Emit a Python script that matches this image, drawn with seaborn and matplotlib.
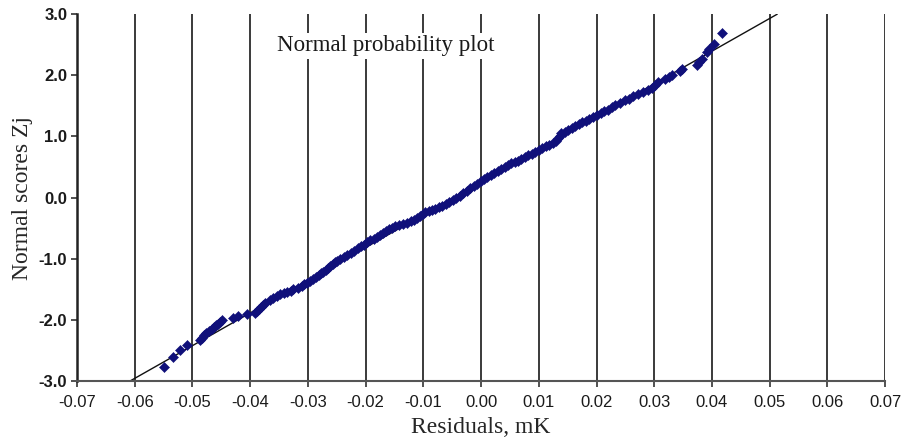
import matplotlib
matplotlib.use("Agg")
import matplotlib.pyplot as plt
import seaborn as sns
import pandas as pd

# Residuals (x) and normal scores (y)
residuals = [
    -0.0549, -0.0534, -0.0522, -0.0510, -0.0487, -0.0484, -0.0480, -0.0476, -0.0471, -0.0467,
    -0.0463, -0.0459, -0.0455, -0.0452, -0.0449, -0.0429, -0.0421, -0.0406, -0.0392, -0.0389,
    -0.0385, -0.0381, -0.0378, -0.0374, -0.0366, -0.0360, -0.0353, -0.0348, -0.0341, -0.0337,
    -0.0330, -0.0325, -0.0318, -0.0311, -0.0306, -0.0301, -0.0296, -0.0291, -0.0286, -0.0281,
    -0.0277, -0.0273, -0.0269, -0.0265,
    -0.0261, -0.0257, -0.0253, -0.0249, -0.0244, -0.0238, -0.0232, -0.0226, -0.0220, -0.0214,
    -0.0208, -0.0203, -0.0198, -0.0192, -0.0186, -0.0180, -0.0175, -0.0170, -0.0165, -0.0160,
    -0.0155, -0.0149, -0.0143, -0.0136, -0.0129, -0.0122, -0.0116, -0.0111, -0.0106, -0.0101,
    -0.0097, -0.0091, -0.0085, -0.0079, -0.0073, -0.0067, -0.0061, -0.0055, -0.0049, -0.0043,
    -0.0037, -0.0031, -0.0025, -0.0019, -0.0013, -0.0007, -0.0001, 0.0005, 0.0011, 0.0017,
    0.0023, 0.0029, 0.0035, 0.0041, 0.0046, 0.0052, 0.0058, 0.0064, 0.0070, 0.0076,
    0.0082, 0.0088, 0.0094, 0.0100, 0.0106, 0.0112, 0.0118, 0.0124, 0.0129, 0.0133,
    0.0136, 0.0139, 0.0145, 0.0151, 0.0157, 0.0163, 0.0169, 0.0175, 0.0181, 0.0187,
    0.0194, 0.0201, 0.0207, 0.0213, 0.0219, 0.0226, 0.0232,
    0.0240, 0.0250, 0.0257, 0.0264, 0.0272, 0.0281, 0.0289, 0.0296, 0.0302, 0.0307,
    0.0318, 0.0325, 0.0330, 0.0345, 0.0348, 0.0374, 0.0378, 0.0382, 0.0392, 0.0395,
    0.0403, 0.0417,
]
normal_scores = [
    -2.77, -2.61, -2.49, -2.41, -2.33, -2.29, -2.25, -2.22, -2.18, -2.15,
    -2.12, -2.09, -2.06, -2.03, -2.00, -1.97, -1.94, -1.91, -1.88, -1.85,
    -1.82, -1.79, -1.76, -1.73, -1.68, -1.64, -1.61, -1.58, -1.56, -1.54,
    -1.52, -1.50, -1.48, -1.45, -1.42, -1.39, -1.36, -1.33, -1.30, -1.27,
    -1.24, -1.21, -1.18, -1.15,
    -1.12, -1.09, -1.06, -1.03, -1.00, -0.97, -0.94, -0.91, -0.87, -0.83,
    -0.80, -0.77, -0.73, -0.70, -0.67, -0.64, -0.61, -0.58, -0.55, -0.52,
    -0.49, -0.47, -0.45, -0.43, -0.41, -0.39, -0.36, -0.33, -0.30, -0.27,
    -0.24, -0.22, -0.20, -0.18, -0.16, -0.13, -0.10, -0.07, -0.04, -0.01,
    0.03, 0.07, 0.11, 0.15, 0.19, 0.23, 0.27, 0.30, 0.33, 0.37,
    0.41, 0.44, 0.47, 0.50, 0.53, 0.56, 0.58, 0.60, 0.63, 0.66,
    0.69, 0.72, 0.75, 0.78, 0.81, 0.84, 0.86, 0.89, 0.93, 0.97,
    1.01, 1.05, 1.08, 1.11, 1.14, 1.17, 1.20, 1.23, 1.26, 1.29,
    1.32, 1.35, 1.38, 1.41, 1.44, 1.48, 1.51,
    1.55, 1.59, 1.62, 1.66, 1.69, 1.73, 1.76, 1.80, 1.84, 1.89,
    1.94, 1.98, 2.01, 2.07, 2.10, 2.17, 2.21, 2.26, 2.38, 2.43,
    2.52, 2.69,
]

# Reference (fitted) line end points
line_x = [-0.0608, 0.0513]
line_y = [-3.0, 3.0]

x_ticks = [-0.07, -0.06, -0.05, -0.04, -0.03, -0.02, -0.01, 0.00,
           0.01, 0.02, 0.03, 0.04, 0.05, 0.06, 0.07]
y_ticks = [-3.0, -2.0, -1.0, 0.0, 1.0, 2.0, 3.0]

title_text = "Normal probability plot"
x_label = "Residuals, mK"
y_label = "Normal scores Zj"

sns.set_style("white")
plt.rcParams["axes.unicode_minus"] = False

fig = plt.figure(figsize=(9.06, 4.43), dpi=100)
ax = fig.add_axes([0.085, 0.140, 0.892, 0.828])

pts = pd.DataFrame({"x": residuals, "y": normal_scores})
ln = pd.DataFrame({"x": line_x, "y": line_y})

# vertical gridlines
for xv in x_ticks[1:]:
    ax.axvline(xv, color="#3a3a3a", lw=1.4, zorder=1)

sns.lineplot(data=ln, x="x", y="y", ax=ax, color="#111111", lw=1.0, zorder=2)
sns.scatterplot(data=pts, x="x", y="y", ax=ax, marker="D", s=26,
                color="#10107a", edgecolor="#10107a", linewidth=0.4, zorder=3)

ax.set_xlim(-0.07, 0.07)
ax.set_ylim(-3.0, 3.0)
ax.set_xticks(x_ticks)
ax.set_yticks(y_ticks)
ax.set_xticklabels([f"{v:.2f}" for v in x_ticks], fontsize=12,
                   family="Liberation Sans", color="#1a1a1a")
ax.set_yticklabels([f"{v:.1f}" for v in y_ticks], fontsize=12,
                   family="Liberation Sans", fontweight="bold", color="#1a1a1a")

ax.tick_params(axis="x", direction="out", length=4, width=1.2,
               color="#333333", bottom=True, pad=6)
ax.tick_params(axis="y", direction="out", length=4, width=1.2,
               color="#333333", left=True, pad=3)

for side in ["top", "right"]:
    ax.spines[side].set_visible(False)
ax.spines["left"].set_color("#222222")
ax.spines["left"].set_linewidth(1.8)
ax.spines["bottom"].set_color("#555555")
ax.spines["bottom"].set_linewidth(1.5)

ax.set_xlabel(x_label, fontsize=17, family="Liberation Serif", labelpad=5)
ax.set_ylabel(y_label, fontsize=17, family="Liberation Serif", labelpad=4)

ax.text(-0.0165, 2.48, title_text, fontsize=16.5, family="Liberation Serif",
        ha="center", va="center", zorder=4, color="#1a1a1a",
        bbox=dict(facecolor="white", edgecolor="none", pad=1.5))

fig.savefig("out.png", dpi=100)
